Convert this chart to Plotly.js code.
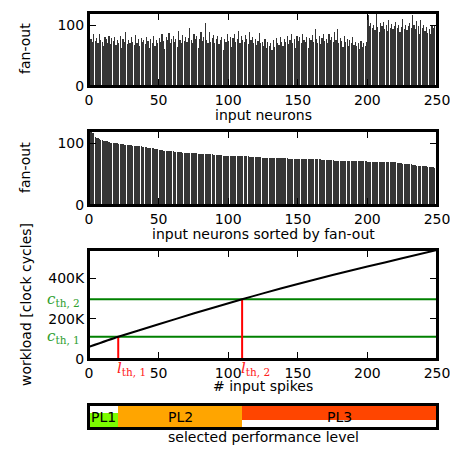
<!DOCTYPE html>
<html>
<head>
<meta charset="utf-8">
<script src="https://cdn.plot.ly/plotly-3.0.1.min.js"></script>
<style>
  html, body { margin: 0; padding: 0; background: #fff; }
  #chart { width: 450px; height: 450px; }
</style>
</head>
<body>
<div id="chart"></div>
<script>
// Fan-out of each input neuron (number of synaptic targets)
const fanOut = [
  76, 78, 72, 85, 74, 79, 70, 86, 75, 73,
  66, 80, 77, 71, 82, 69, 79, 74, 81, 68,
  75, 70, 83, 62, 78, 72, 88, 69, 76, 71,
  80, 73, 68, 84, 70, 77, 66, 79, 72, 75,
  69, 81, 74, 63, 78, 71, 83, 65, 76, 70,
  79, 72, 85, 74, 61, 81, 75, 87, 70, 77,
  82, 73, 78, 64, 90, 76, 71, 84, 74, 80,
  72, 79, 96, 75, 70, 86, 77, 82, 63, 78,
  88, 74, 81, 103, 76, 71, 89, 73, 79, 84,
  70, 77, 83, 69, 75, 80, 60, 78, 72, 85,
  74, 81, 64, 79, 86, 73, 77, 91, 70, 82,
  76, 72, 84, 78, 69, 88, 75, 80, 71, 77,
  68, 74, 87, 70, 73, 66, 77, 62, 72, 65,
  71, 59, 75, 64, 79, 70, 68, 80, 73, 66,
  77, 72, 82, 69, 75, 85, 71, 78, 63, 83,
  74, 80, 70, 86, 76, 72, 81, 62, 79, 75,
  84, 73, 94, 77, 71, 82, 69, 79, 86, 74,
  78, 70, 85, 75, 81, 72, 88, 76, 93, 71,
  79, 74, 64, 83, 72, 77, 66, 75, 70, 80,
  67, 73, 65, 71, 61, 74, 64, 70, 66, 72,
  116, 98, 104, 95, 101, 92, 118, 97, 88, 103,
  99, 106, 94, 100, 91, 108, 96, 102, 93, 99,
  105, 95, 101, 89, 97, 110, 94, 100, 92, 98,
  103, 96, 117, 101, 94, 107, 99, 86, 109, 95,
  100, 91, 97, 87, 93, 85, 98, 96, 99, 118
];

// Workload of one time step versus the number of input spikes
const inputSpikes = [0, 21, 50, 75, 110, 125, 150, 175, 200, 225, 250];
const workload = [60000, 110000, 172000, 225000, 296000, 325000, 372000, 416000, 458000, 499000, 540000];

// Performance-level thresholds: workload (c_th) and spike count (l_th)
const cTh = [110000, 296000];
const lTh = [21, 110];
const cThLabels = ['<i>c</i><sub>th, 1</sub>', '<i>c</i><sub>th, 2</sub>'];
const lThLabels = ['<i>l</i><sub>th, 1</sub>', '<i>l</i><sub>th, 2</sub>'];

// Performance levels selected along the spike-count axis
const plNames = ['PL1', 'PL2', 'PL3'];
const plBounds = [0, 21, 110, 250];
const plColors = ['#7cfc00', '#ffa500', '#ff4500'];

const xTicks = [0, 50, 100, 150, 200, 250];
const fanTicks = [0, 100];
const loadTicks = [0, 200000, 400000];
const loadTickText = ['0', '200K', '400K'];

const neuronIdx = fanOut.map((_, i) => i);
const sortedFanOut = fanOut.slice().sort((a, b) => b - a);

const W = 450, H = 450;
const px = v => v / W;
const py = v => 1 - v / H;

const FONT = 'DejaVu Sans, sans-serif';
const MATH = 'DejaVu Serif, Liberation Serif, serif';

function frameAxis(extra) {
  return Object.assign({
    showline: true, mirror: 'ticks', linecolor: '#000', linewidth: 2,
    ticks: 'inside', ticklen: 7, tickwidth: 1, tickcolor: '#000',
    showgrid: false, zeroline: false, ticklabeloverflow: 'allow',
    tickfont: { family: FONT, size: 14, color: '#000' },
    fixedrange: true
  }, extra);
}
// right-hand copy of a y axis, carrying only the inner tick marks
function rightTicks(over, anchor, range, tickvals) {
  return {
    overlaying: over, anchor, side: 'right', range, tickvals,
    ticks: 'inside', ticklen: 7, tickwidth: 1, tickcolor: '#000',
    showticklabels: false, showline: false, showgrid: false, zeroline: false, fixedrange: true
  };
}

const xDom = [px(89), px(437)];
const barColor = '#353535';

const traces = [
  {
    type: 'bar', x: neuronIdx, y: fanOut, xaxis: 'x', yaxis: 'y',
    offset: 0, width: 0.85, marker: { color: barColor, line: { width: 0 } },
    hoverinfo: 'skip'
  },
  {
    type: 'bar', x: neuronIdx, y: sortedFanOut, xaxis: 'x2', yaxis: 'y2',
    offset: 0, width: 0.85, marker: { color: barColor, line: { width: 0 } },
    hoverinfo: 'skip'
  }
];

// threshold lines in the workload panel
cTh.forEach(c => traces.push({
  type: 'scatter', mode: 'lines', x: [0, 250], y: [c, c], xaxis: 'x3', yaxis: 'y3',
  line: { color: '#008000', width: 2 }, hoverinfo: 'skip'
}));
lTh.forEach((l, i) => traces.push({
  type: 'scatter', mode: 'lines', x: [l, l], y: [0, cTh[i]], xaxis: 'x3', yaxis: 'y3',
  line: { color: '#ff0000', width: 2 }, hoverinfo: 'skip'
}));
traces.push({
  type: 'scatter', mode: 'lines', x: inputSpikes, y: workload, xaxis: 'x3', yaxis: 'y3',
  line: { color: '#000', width: 2, shape: 'spline', smoothing: 0.6 }, hoverinfo: 'skip'
});

// performance level strip
plNames.forEach((name, i) => traces.push({
  type: 'bar', orientation: 'h', y: [0], x: [plBounds[i + 1] - plBounds[i]], base: [plBounds[i]],
  xaxis: 'x4', yaxis: 'y4', width: 1, marker: { color: plColors[i], line: { width: 0 } },
  hoverinfo: 'skip'
}));

const annotations = [];
function title(text, x, y, angle) {
  annotations.push({
    text, xref: 'paper', yref: 'paper', x: px(x), y: py(y),
    xanchor: 'center', yanchor: 'middle', showarrow: false, textangle: angle || 0,
    font: { family: FONT, size: 14, color: '#000' }
  });
}
title('input neurons', 263, 115);
title('fan-out', 25, 49, -90);
title('input neurons sorted by fan-out', 263, 234);
title('fan-out', 25, 168, -90);
title('# input spikes', 263, 386);
title('workload [clock cycles]', 26, 305, -90);
title('selected performance level', 263, 437);

cTh.forEach((c, i) => annotations.push({
  text: cThLabels[i], xref: 'paper', yref: 'y3', x: px(82), y: c,
  xanchor: 'right', yanchor: 'middle', showarrow: false,
  font: { family: MATH, size: 15, color: '#2e9e2e' }
}));
lTh.forEach((l, i) => annotations.push({
  text: lThLabels[i], xref: 'x3', yref: 'paper', x: l, y: py(368), xshift: -3,
  xanchor: 'left', yanchor: 'middle', showarrow: false,
  font: { family: MATH, size: 15, color: '#ff2020' }
}));
plNames.forEach((name, i) => annotations.push({
  text: name, xref: 'x4', yref: 'y4', x: (plBounds[i] + plBounds[i + 1]) / 2, y: 0,
  xanchor: 'center', yanchor: 'middle', showarrow: false,
  font: { family: FONT, size: 14, color: '#000' }
}));

// black frame round every panel
const shapes = ['', '2', '3', '4'].map(n => ({
  type: 'rect', xref: 'x' + n + ' domain', yref: 'y' + n + ' domain',
  x0: 0, x1: 1, y0: 0, y1: 1, line: { color: '#000', width: 2 }, layer: 'above'
}));

const layout = {
  width: W, height: H,
  margin: { l: 0, r: 0, t: 0, b: 0 },
  paper_bgcolor: '#fff', plot_bgcolor: '#fff',
  showlegend: false, bargap: 0,
  xaxis: frameAxis({ domain: xDom, anchor: 'y', range: [0, 250], tickvals: xTicks }),
  yaxis: frameAxis({ domain: [py(86), py(13)], anchor: 'x', range: [0, 120], tickvals: fanTicks }),
  xaxis2: frameAxis({ domain: xDom, anchor: 'y2', range: [0, 250], tickvals: xTicks }),
  yaxis2: frameAxis({ domain: [py(205), py(131)], anchor: 'x2', range: [0, 120], tickvals: fanTicks }),
  xaxis3: frameAxis({ domain: xDom, anchor: 'y3', range: [0, 250], tickvals: xTicks }),
  yaxis3: frameAxis({ domain: [py(359), py(250)], anchor: 'x3', range: [0, 540000],
    tickvals: loadTicks, ticktext: loadTickText }),
  xaxis4: frameAxis({ domain: xDom, anchor: 'y4', range: [0, 250], ticks: '', showticklabels: false, mirror: true }),
  yaxis4: frameAxis({ domain: [py(428), py(405)], anchor: 'x4', range: [-0.5, 0.5], ticks: '', showticklabels: false, mirror: true }),
  yaxis5: rightTicks('y', 'x', [0, 120], fanTicks),
  yaxis6: rightTicks('y2', 'x2', [0, 120], fanTicks),
  yaxis7: rightTicks('y3', 'x3', [0, 540000], loadTicks),
  shapes, annotations
};

Plotly.newPlot('chart', traces, layout, { staticPlot: true, displayModeBar: false });
</script>
</body>
</html>
